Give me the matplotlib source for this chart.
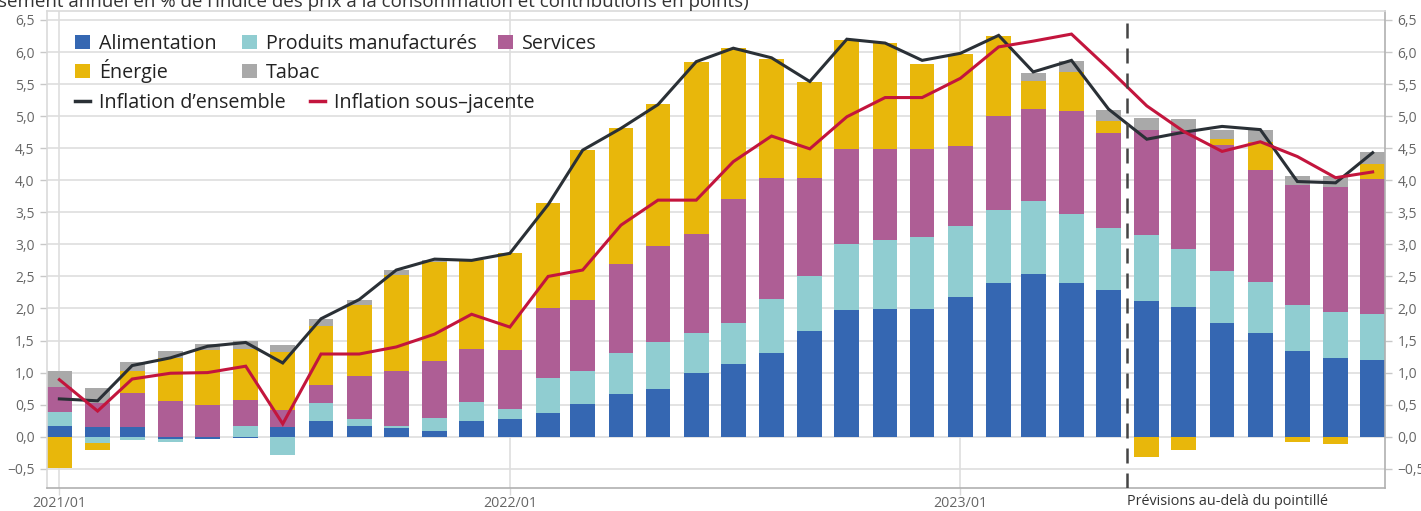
import matplotlib
matplotlib.use("Agg")
import matplotlib.pyplot as plt
import matplotlib.dates as mdates
from matplotlib.patches import Patch
from matplotlib.lines import Line2D
from matplotlib.legend import Legend
from matplotlib.ticker import FuncFormatter, MultipleLocator
import numpy as np
import pandas as pd

plt.rcParams['font.family'] = ['Open Sans', 'DejaVu Sans']

months = pd.date_range('2021-01-01', periods=36, freq='MS')

alimentation = [0.17, 0.15, 0.15, -0.03, -0.03, -0.02, 0.15, 0.24, 0.17, 0.13, 0.09, 0.25,
                0.27, 0.37, 0.51, 0.66, 0.74, 0.99, 1.14, 1.31, 1.65, 1.97, 1.99, 1.99,
                2.18, 2.40, 2.54, 2.40, 2.29, 2.11, 2.03, 1.77, 1.62, 1.34, 1.22, 1.19]
manufactures = [0.21, -0.10, -0.05, -0.06, 0.00, 0.17, -0.28, 0.28, 0.11, 0.04, 0.20, 0.29,
                0.16, 0.54, 0.52, 0.65, 0.73, 0.62, 0.64, 0.84, 0.86, 1.03, 1.08, 1.13,
                1.10, 1.13, 1.14, 1.08, 0.96, 1.04, 0.89, 0.81, 0.80, 0.71, 0.72, 0.72]
services = [0.39, 0.37, 0.53, 0.56, 0.49, 0.41, 0.27, 0.29, 0.67, 0.85, 0.89, 0.83,
            0.92, 1.09, 1.10, 1.39, 1.51, 1.55, 1.93, 1.88, 1.52, 1.49, 1.42, 1.37,
            1.25, 1.48, 1.43, 1.60, 1.49, 1.64, 1.85, 1.97, 1.74, 1.88, 1.95, 2.11]
energie = [-0.49, -0.11, 0.35, 0.66, 0.86, 0.79, 0.90, 0.92, 1.11, 1.50, 1.55, 1.38,
           1.51, 1.64, 2.34, 2.11, 2.21, 2.69, 2.36, 1.86, 1.51, 1.69, 1.65, 1.33,
           1.44, 1.24, 0.44, 0.61, 0.19, -0.32, -0.20, 0.10, 0.44, -0.09, -0.11, 0.23]
tabac = [0.25, 0.24, 0.13, 0.12, 0.09, 0.13, 0.11, 0.11, 0.08, 0.08, 0.03, 0.00,
         0.00, 0.00, 0.00, 0.00, 0.00, 0.00, 0.00, 0.00, 0.00, 0.00, 0.00, 0.00,
         0.00, 0.00, 0.13, 0.17, 0.17, 0.18, 0.18, 0.13, 0.18, 0.14, 0.18, 0.19]
inflation_ensemble = [0.59, 0.56, 1.11, 1.23, 1.41, 1.47, 1.15, 1.84, 2.14, 2.60, 2.77, 2.75,
                      2.86, 3.62, 4.47, 4.81, 5.18, 5.85, 6.06, 5.91, 5.54, 6.20, 6.14, 5.87,
                      5.98, 6.26, 5.69, 5.87, 5.11, 4.64, 4.75, 4.84, 4.79, 3.98, 3.96, 4.43]
inflation_sous_jacente = [0.89, 0.40, 0.90, 0.99, 1.00, 1.10, 0.20, 1.29, 1.29, 1.40, 1.60, 1.91,
                          1.71, 2.50, 2.60, 3.30, 3.69, 3.69, 4.29, 4.69, 4.49, 4.99, 5.29, 5.29,
                          5.59, 6.08, 6.17, 6.28, 5.74, 5.16, 4.76, 4.45, 4.60, 4.37, 4.04, 4.13]

series_names = ['Alimentation', 'Produits manufacturés', 'Services', 'Énergie', 'Tabac']
series_values = [alimentation, manufactures, services, energie, tabac]
series_colors = ['#3567B2', '#90CDD1', '#AE5E95', '#E8B70B', '#A9A9A9']
line_names = ['Inflation d\u2019ensemble', 'Inflation sous\u2013jacente']
line_ens_color = '#2A3036'
line_sj_color = '#C3153D'

forecast_start = pd.Timestamp('2023-05-16')
title_txt = "sement annuel en % de l\u2019indice des prix à la consommation et contributions en points)"
forecast_txt = "Prévisions au-delà du pointillé"
year_ticks = pd.to_datetime(['2021-01-01', '2022-01-01', '2023-01-01'])

W, H = 1421, 511
fig = plt.figure(figsize=(W / 100, H / 100), dpi=100)
ax = fig.add_axes([47 / W, 1 - 488 / H, (1385 - 47) / W, (488 - 11) / H])

pos_bottom = np.zeros(len(months))
neg_bottom = np.zeros(len(months))
handles = []
for name, vals, col in zip(series_names, series_values, series_colors):
    v = np.array(vals, dtype=float)
    bottom = np.where(v >= 0, pos_bottom, neg_bottom)
    ax.bar(months, v, width=20, bottom=bottom, color=col, linewidth=0, zorder=2)
    pos_bottom = pos_bottom + np.where(v >= 0, v, 0)
    neg_bottom = neg_bottom + np.where(v < 0, v, 0)
    handles.append(Patch(facecolor=col, edgecolor='none', label=name))

ax.plot(months, inflation_ensemble, color=line_ens_color, lw=2.2, zorder=4,
        solid_joinstyle='miter', label=line_names[0])
ax.plot(months, inflation_sous_jacente, color=line_sj_color, lw=2.2, zorder=5,
        solid_joinstyle='miter', label=line_names[1])

fx = mdates.date2num(forecast_start)
ax.axvline(fx, ymin=0, ymax=(6.55 + 0.8) / (6.64 + 0.8), color='#444444',
           lw=1.8, dashes=(6, 4), zorder=6)

ax.set_ylim(-0.80, 6.64)
ax.set_xlim(pd.Timestamp('2020-12-22'), pd.Timestamp('2023-12-11'))
ax.yaxis.set_major_locator(MultipleLocator(0.5))
ax.yaxis.set_major_formatter(FuncFormatter(lambda v, p: f"{v:.1f}".replace('.', ',').replace('-', '\u2212')))
ax.set_xticks(year_ticks)
ax.xaxis.set_major_formatter(mdates.DateFormatter('%Y/%m'))

ax.grid(axis='y', color='#DEDEDE', lw=1.2, zorder=0)
ax.grid(axis='x', color='#DEDEDE', lw=1.2, zorder=0)
ax.set_axisbelow(True)

for s in ['left', 'top']:
    ax.spines[s].set_color('#DADADA')
    ax.spines[s].set_linewidth(1.2)
ax.spines['right'].set_color('#B0B0B0')
ax.spines['right'].set_linewidth(1.2)
ax.spines['bottom'].set_color('#B0B0B0')
ax.spines['bottom'].set_linewidth(1.2)

ax.tick_params(axis='y', which='both', left=True, right=True, labelleft=True, labelright=True,
               length=5, width=1, color='#C8C8C8', labelsize=10, labelcolor='#666666', pad=4)
ax.tick_params(axis='x', length=5, width=1, color='#DADADA', labelsize=10.3,
               labelcolor='#666666', pad=0.5)

# legend: one cell per entry so that rows share a common baseline
line_handles = [Line2D([0], [0], color=line_ens_color, lw=2.5, label=line_names[0]),
                Line2D([0], [0], color=line_sj_color, lw=2.5, label=line_names[1])]
cells = [
    (handles[0], 75, 54), (handles[1], 242, 54), (handles[2], 498, 54),
    (handles[3], 75, 83), (handles[4], 242, 83),
    (line_handles[0], 75, 113), (line_handles[1], 310, 113),
]
for h, px, py in cells:
    lg = Legend(ax, [h], [h.get_label()], loc='lower left',
                bbox_to_anchor=(px / W, 1 - py / H), bbox_transform=fig.transFigure,
                frameon=False, fontsize=14.2, handlelength=0.75, handleheight=0.75,
                handletextpad=0.45, borderpad=0, borderaxespad=0)
    for t in lg.get_texts():
        t.set_color('#222222')
    ax.add_artist(lg)

ax.annotate(forecast_txt, xy=(fx, 0), xycoords=ax.get_xaxis_transform(),
            xytext=(0, -4.5), textcoords='offset points', ha='left', va='top',
            fontsize=10.4, color='#333333')

fig.text(-2 / W, 1 - 7 / H, title_txt, ha='left', va='baseline', fontsize=13.5, color='#333333')

fig.savefig('out.png', dpi=100)
